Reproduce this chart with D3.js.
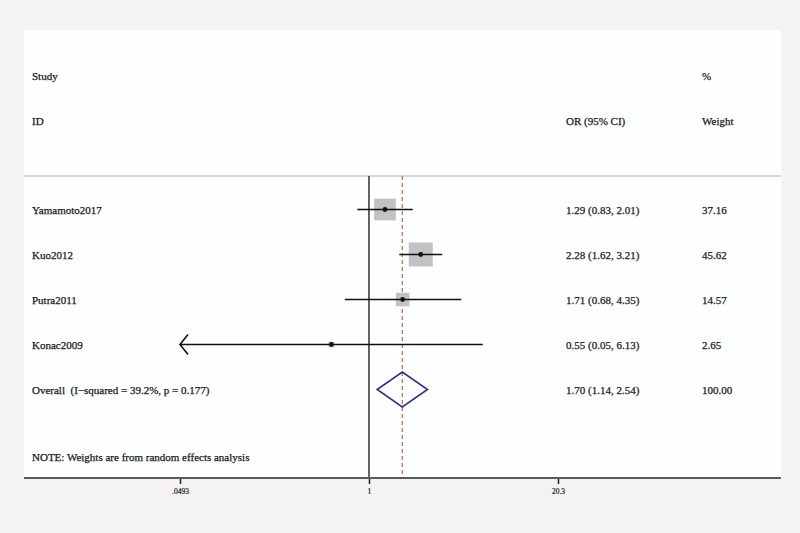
<!DOCTYPE html>
<html>
<head>
<meta charset="utf-8">
<script src="https://cdn.jsdelivr.net/npm/d3@7"></script>
<style>
  html, body { margin: 0; padding: 0; background: #f4f2f3; }
  text { font-family: "Liberation Serif", "Times New Roman", serif; fill: #1a1a1a; stroke: #1a1a1a; stroke-width: 0.25px; white-space: pre; }
</style>
</head>
<body>
<div id="chart"></div>
<script>
var studies = ["Yamamoto2017", "Kuo2012", "Putra2011", "Konac2009"];
var oddsRatio = [1.29, 2.28, 1.71, 0.55];
var lowerCI = [0.83, 1.62, 0.68, 0.05];
var upperCI = [2.01, 3.21, 4.35, 6.13];
var weights = [37.16, 45.62, 14.57, 2.65];
var ciLabels = ["1.29 (0.83, 2.01)", "2.28 (1.62, 3.21)", "1.71 (0.68, 4.35)", "0.55 (0.05, 6.13)"];
var weightLabels = ["37.16", "45.62", "14.57", "2.65"];

var overallLabel = "Overall  (I\u2212squared = 39.2%, p = 0.177)";
var overallOR = 1.70, overallLo = 1.14, overallHi = 2.54;
var overallCI = "1.70 (1.14, 2.54)";
var overallWeight = "100.00";

var tickValues = [0.0493, 1, 20.3];
var tickLabels = [".0493", "1", "20.3"];

var W = 800, H = 533;
var svg = d3.select("#chart").append("svg").attr("width", W).attr("height", H);

// white panel
svg.append("rect").attr("x", 24).attr("y", 30).attr("width", 757).attr("height", 448).style("fill", "#fdfefe");

var x = d3.scaleLog().domain([0.0493, 20.3]).range([180, 558]);
var rows = studies.concat(["Overall"]);
var y = d3.scalePoint().domain(rows).range([209.5, 389.5]);
var box = d3.scaleSqrt().domain([0, d3.max(weights)]).range([0, 24]);

var colStudy = 32, colOR = 566, colW = 702;
var topLine = 176, axisY = 478;

// headers
svg.append("text").attr("x", colStudy).attr("y", 79.5).style("font-size", "11px").text("Study");
svg.append("text").attr("x", colStudy).attr("y", 124.5).style("font-size", "11px").text("ID");
svg.append("text").attr("x", colW).attr("y", 79.5).style("font-size", "11px").text("%");
svg.append("text").attr("x", colOR).attr("y", 124.5).style("font-size", "11px").text("OR (95% CI)");
svg.append("text").attr("x", colW).attr("y", 124.5).style("font-size", "11px").text("Weight");

svg.append("line").attr("x1", 24).attr("x2", 781).attr("y1", topLine).attr("y2", topLine)
    .style("stroke", "#cdc8c8").style("stroke-width", 1.5);

// null line
svg.append("line").attr("x1", x(1)).attr("x2", x(1)).attr("y1", topLine).attr("y2", axisY)
    .style("stroke", "#111").style("stroke-width", 1.3);

// overall dashed line
svg.append("line").attr("x1", x(overallOR)).attr("x2", x(overallOR)).attr("y1", topLine).attr("y2", axisY)
    .style("stroke", "#c5734f").style("stroke-width", 1.3).style("stroke-dasharray", "4,3");

var data = studies.map(function (s, i) {
    return { name: s, or: oddsRatio[i], lo: lowerCI[i], hi: upperCI[i], w: weights[i], ci: ciLabels[i], wl: weightLabels[i] };
});

var g = svg.selectAll("g.study").data(data).enter().append("g").attr("class", "study");

g.append("rect")
    .style("fill", "#c3c1c1")
    .attr("x", function (d) { return x(d.or) - box(d.w) / 2; })
    .attr("y", function (d) { return y(d.name) - box(d.w) / 2; })
    .attr("width", function (d) { return box(d.w); })
    .attr("height", function (d) { return box(d.w); });

g.append("line")
    .attr("x1", function (d) { return d.lo <= x.domain()[0] * 1.02 ? x.range()[0] : x(d.lo); })
    .attr("x2", function (d) { return x(d.hi); })
    .attr("y1", function (d) { return y(d.name); })
    .attr("y2", function (d) { return y(d.name); })
    .style("stroke", "#111").style("stroke-width", 1.6);

g.filter(function (d) { return d.lo <= x.domain()[0] * 1.02; })
    .append("path")
    .attr("d", function (d) {
        var x0 = x.range()[0], yy = y(d.name);
        return "M" + (x0 + 8) + "," + (yy - 10) + "L" + x0 + "," + yy + "L" + (x0 + 8) + "," + (yy + 10);
    })
    .style("fill", "none").style("stroke", "#111").style("stroke-width", 1.6);

g.append("circle")
    .attr("cx", function (d) { return x(d.or); })
    .attr("cy", function (d) { return y(d.name); })
    .attr("r", 2.4)
    .style("fill", "#111");

g.append("text").attr("x", colStudy).attr("y", function (d) { return y(d.name) + 4; })
    .style("font-size", "11px").text(function (d) { return d.name; });
g.append("text").attr("x", colOR).attr("y", function (d) { return y(d.name) + 4; })
    .style("font-size", "11px").text(function (d) { return d.ci; });
g.append("text").attr("x", colW).attr("y", function (d) { return y(d.name) + 4; })
    .style("font-size", "11px").text(function (d) { return d.wl; });

// overall diamond
var oy = y("Overall");
svg.append("path")
    .attr("d", "M" + x(overallLo) + "," + oy + "L" + x(overallOR) + "," + (oy - 17.5) +
        "L" + x(overallHi) + "," + oy + "L" + x(overallOR) + "," + (oy + 17.5) + "Z")
    .style("fill", "none").style("stroke", "#3b2d8a").style("stroke-width", 1.6);

svg.append("text").attr("x", colStudy).attr("y", oy + 4).style("font-size", "11px").text(overallLabel);
svg.append("text").attr("x", colOR).attr("y", oy + 4).style("font-size", "11px").text(overallCI);
svg.append("text").attr("x", colW).attr("y", oy + 4).style("font-size", "11px").text(overallWeight);

svg.append("text").attr("x", colStudy).attr("y", 460.5).style("font-size", "11px")
    .text("NOTE: Weights are from random effects analysis");

// axis
var axis = d3.axisBottom(x).tickValues(tickValues).tickSize(6)
    .tickFormat(function (d, i) { return tickLabels[i]; });
var ax = svg.append("g").attr("transform", "translate(0," + axisY + ")").call(axis);
ax.select(".domain").remove();
ax.selectAll(".tick line").style("stroke", "#222").style("stroke-width", 1.5);
ax.selectAll(".tick text").style("font-size", "7.5px").style("font-family", "Liberation Serif, serif")
    .attr("y", 11).style("fill", "#222").style("stroke-width", "0.2px");
svg.append("line").attr("x1", 24).attr("x2", 781).attr("y1", axisY).attr("y2", axisY)
    .style("stroke", "#5a5858").style("stroke-width", 2);
</script>
</body>
</html>
